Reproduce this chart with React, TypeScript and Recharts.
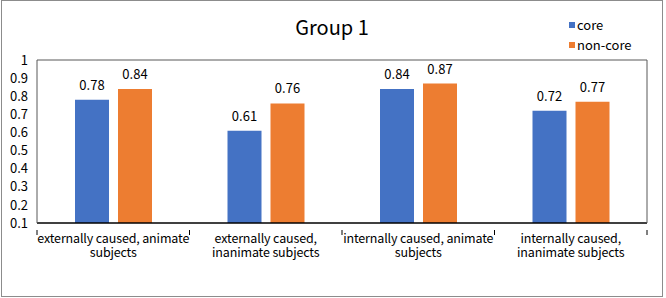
import { BarChart, Bar, XAxis, YAxis, LabelList, ReferenceLine } from "recharts";

const FONT = '"Noto Sans CJK SC", "Noto Sans", sans-serif';

const categories = [
  "externally caused, animate\nsubjects",
  "externally caused,\ninanimate subjects",
  "internally caused, animate\nsubjects",
  "internally caused,\ninanimate subjects",
];
const core = [0.78, 0.61, 0.84, 0.72];
const nonCore = [0.84, 0.76, 0.87, 0.77];
const yTicks = [0.1, 0.2, 0.3, 0.4, 0.5, 0.6, 0.7, 0.8, 0.9, 1];

const data = categories.map((name, i) => ({ name, core: core[i], nonCore: nonCore[i] }));

// two-line category label, plus tick marks on the band edges
function CategoryTick({ x, y, payload, index, visibleTicksCount }: any) {
  const lines = String(payload.value).split("\n");
  const half = payload.offset ?? 0;
  const last = index === visibleTicksCount - 1;
  return (
    <g>
      <line x1={x - half} x2={x - half} y1={y - 1} y2={y + 4} stroke="#000" />
      {last && <line x1={x + half} x2={x + half} y1={y - 1} y2={y + 4} stroke="#000" />}
      <text
        x={x} y={y + 12} textAnchor="middle" fontSize={12.5} letterSpacing={-0.15}
        fontFamily={FONT} fill="#000"
      >
        {lines.map((l, i) => (
          <tspan key={i} x={x} dy={i === 0 ? 0 : 14}>{l}</tspan>
        ))}
      </text>
    </g>
  );
}

function LegendBox() {
  const items = [
    { label: "core", color: "#4472C4" },
    { label: "non-core", color: "#ED7D31" },
  ];
  return (
    <div
      style={{
        position: "absolute", top: 15, left: 569,
        fontFamily: FONT, fontSize: 13, lineHeight: "20px", color: "#000",
      }}
    >
      {items.map((it) => (
        <div key={it.label} style={{ display: "flex", alignItems: "center" }}>
          <span style={{ width: 6, height: 6, background: it.color, marginRight: 2, display: "inline-block" }} />
          {it.label}
        </div>
      ))}
    </div>
  );
}

const labelStyle = { fontSize: 13, fontFamily: FONT, fill: "#000" };

export default function App() {
  return (
    <div style={{ position: "absolute", left: 0, top: 0, width: 666, height: 298, background: "#fff" }}>
      <div
        style={{
          position: "absolute", left: 0, top: 14, width: 664, textAlign: "center",
          fontFamily: FONT, fontSize: 20, color: "#000", lineHeight: "26px",
        }}
      >
        Group 1
      </div>
      <BarChart
        width={666}
        height={298}
        data={data}
        margin={{ top: 60, right: 18, bottom: 74, left: 0 }}
        barSize={34}
        barGap={9}
      >
        <XAxis
          dataKey="name" height={1} tick={<CategoryTick />} tickLine={false}
          axisLine={{ stroke: "#000", strokeWidth: 1.5 }} interval={0}
        />
        <YAxis
          domain={[0.1, 1]} ticks={yTicks} interval={0} width={37} tickLine={false} axisLine={{ stroke: "#595959" }}
          tick={{ fontSize: 13, fontFamily: FONT, fill: "#000" }} tickMargin={3}
        />
        <YAxis
          yAxisId="r" orientation="right" domain={[0.1, 1]} ticks={yTicks} width={1}
          tick={false} tickLine={false} axisLine={{ stroke: "#595959" }}
        />
        <ReferenceLine y={1} stroke="#595959" />
        <Bar dataKey="core" name="core" fill="#4472C4" isAnimationActive={false}>
          <LabelList dataKey="core" position="top" offset={10} style={labelStyle} />
        </Bar>
        <Bar dataKey="nonCore" name="non-core" yAxisId="r" fill="#ED7D31" isAnimationActive={false}>
          <LabelList dataKey="nonCore" position="top" offset={10} style={labelStyle} />
        </Bar>
      </BarChart>
      <LegendBox />
      <div
        style={{
          position: "absolute", left: 1, top: 0, width: 662, height: 297,
          border: "1px solid #8c8c8c", boxSizing: "border-box", pointerEvents: "none",
        }}
      />
    </div>
  );
}
